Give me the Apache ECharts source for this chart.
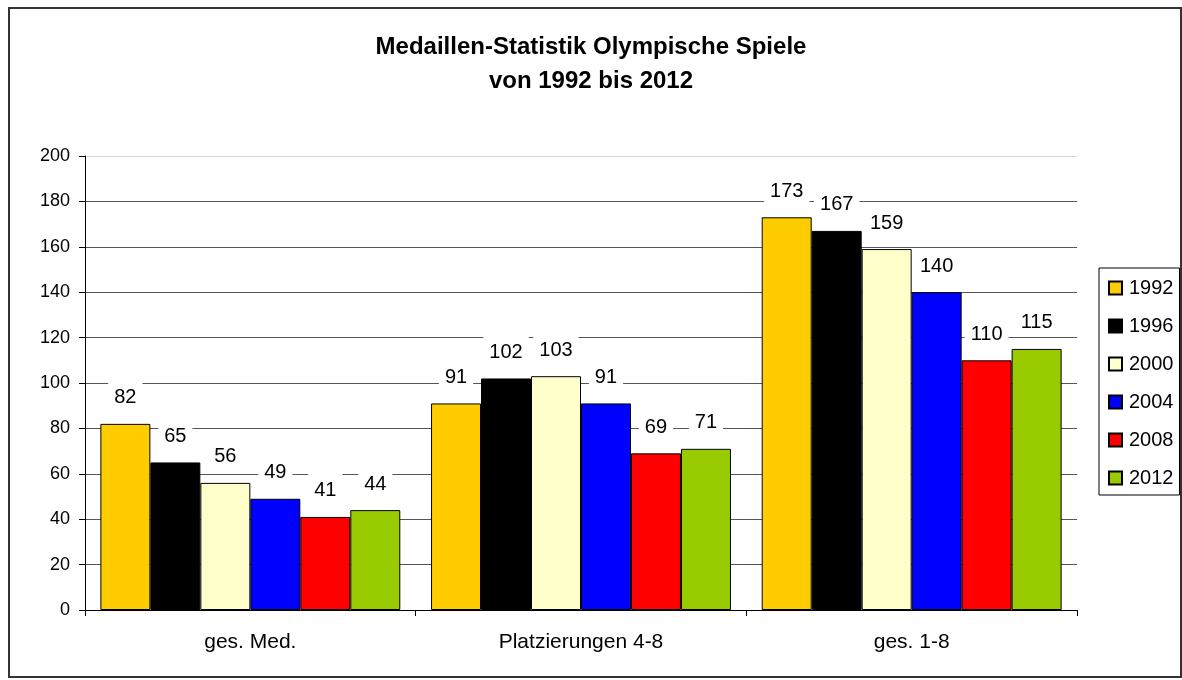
<!DOCTYPE html>
<html>
<head>
<meta charset="utf-8">
<script src="https://cdn.jsdelivr.net/npm/echarts@6/dist/echarts.min.js"></script>
<style>
html,body{margin:0;padding:0;background:#fff;}
#chart{width:1182px;height:680px;}
</style>
</head>
<body>
<div id="chart"></div>
<script>
const categories = ['ges. Med.', 'Platzierungen 4-8', 'ges. 1-8'];
const years = ['1992', '1996', '2000', '2004', '2008', '2012'];
const v1992 = [82, 91, 173];
const v1996 = [65, 102, 167];
const v2000 = [56, 103, 159];
const v2004 = [49, 91, 140];
const v2008 = [41, 69, 110];
const v2012 = [44, 71, 115];
const yTicks = { min: 0, max: 200, interval: 20 };
const titleText = 'Medaillen-Statistik Olympische Spiele\nvon 1992 bis 2012';

const seriesValues = [v1992, v1996, v2000, v2004, v2008, v2012];
const colors = ['#FFCC00', '#000000', '#FFFFCC', '#0000FF', '#FF0000', '#99CC00'];
const FONT = '"Liberation Sans", Arial, sans-serif';

const chart = echarts.init(document.getElementById('chart'), null, { renderer: 'canvas' });

const splitColors = [];
for (let i = 0; i <= 10; i++) splitColors.push(i === 10 ? '#d8d8d8' : '#555555');

chart.setOption({
  animation: false,
  backgroundColor: '#ffffff',
  textStyle: { fontFamily: FONT },
  color: colors,
  title: {
    text: titleText,
    left: 'center',
    top: 25,
    textStyle: { fontFamily: FONT, fontSize: 24, fontWeight: 'bold', color: '#000', lineHeight: 34 }
  },
  graphic: [{
    type: 'rect',
    shape: { x: 9, y: 8, width: 1172, height: 669 },
    style: { fill: 'none', stroke: '#333', lineWidth: 2 },
    silent: true,
    z: 100
  }],
  legend: {
    orient: 'vertical',
    left: 1099,
    top: 268,
    padding: [10, 6, 7, 9],
    borderColor: '#000',
    borderWidth: 1,
    itemWidth: 13,
    itemHeight: 13,
    itemGap: 18,
    icon: 'rect',
    data: years,
    textStyle: { fontFamily: FONT, fontSize: 20, color: '#000', padding: [0, 0, 0, 2] }
  },
  grid: { left: 85, right: 105, top: 156, bottom: 70, containLabel: false },
  xAxis: {
    type: 'category',
    data: categories,
    axisLine: { lineStyle: { color: '#000', width: 1 } },
    axisTick: { show: true, length: 6, lineStyle: { color: '#000' } },
    axisLabel: { fontFamily: FONT, fontSize: 21, color: '#000', margin: 22 },
    splitLine: { show: false }
  },
  yAxis: {
    type: 'value',
    min: yTicks.min,
    max: yTicks.max,
    interval: yTicks.interval,
    axisLine: { show: true, lineStyle: { color: '#000', width: 1 } },
    axisTick: { show: true, length: 6, lineStyle: { color: '#000' } },
    axisLabel: { fontFamily: FONT, fontSize: 18, color: '#000', margin: 15 },
    splitLine: { show: true, lineStyle: { color: splitColors, width: 1 } }
  },
  series: years.map((y, i) => ({
    name: y,
    type: 'bar',
    data: seriesValues[i],
    barGap: '0%',
    barCategoryGap: '9.3%',
    itemStyle: { color: colors[i], borderColor: '#000', borderWidth: 1 },
    label: {
      show: true,
      position: 'top',
      distance: 14,
      fontFamily: FONT,
      fontSize: 20,
      color: '#000',
      backgroundColor: '#fff',
      padding: [8, 6, 2, 6]
    }
  }))
});
</script>
</body>
</html>
